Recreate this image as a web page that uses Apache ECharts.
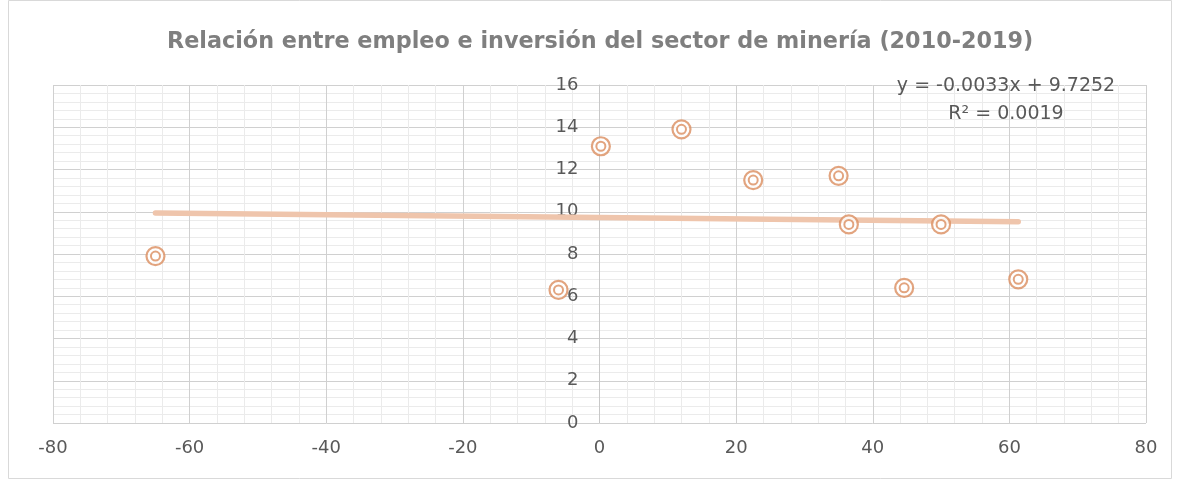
<!DOCTYPE html>
<html><head><meta charset="utf-8">
<script src="https://cdn.jsdelivr.net/npm/echarts@6/dist/echarts.min.js"></script>
<style>html,body{margin:0;padding:0;background:#fff}#c{width:1181px;height:482px}</style>
</head><body><div id="c"></div>
<script>
const empleo = [-65, -6, 0.2, 12, 22.5, 35, 36.5, 44.6, 50, 61.3];
const inversion = [7.9, 6.3, 13.1, 13.9, 11.5, 11.7, 9.4, 6.4, 9.4, 6.8];
const trendSlope = -0.0033;
const trendIntercept = 9.7252;
const xTicks = [-80, -60, -40, -20, 0, 20, 40, 60, 80];
const yTicks = [0, 2, 4, 6, 8, 10, 12, 14, 16];
const titleText = 'Relación entre empleo e inversión del sector de minería (2010-2019)';
const eqText = 'y = -0.0033x + 9.7252';
const r2Text = 'R² = 0.0019';

const pts = empleo.map((x, i) => [x, inversion[i]]);
const xmin = Math.min(...empleo), xmax = Math.max(...empleo);
const trend = [[xmin, trendSlope * xmin + trendIntercept], [xmax, trendSlope * xmax + trendIntercept]];

const W = 1181, gl = 53, gr = 35;
const gridW = W - gl - gr;
const yOffset = -gridW * (0 - xTicks[0]) / (xTicks[xTicks.length - 1] - xTicks[0]);

const chart = echarts.init(document.getElementById('c'));
const markerColor = '#DB8D5F';
const font = 'DejaVu Sans';
chart.setOption({
  animation: false,
  title: {
    text: titleText, left: 162, top: 26,
    textStyle: {fontFamily: font, fontWeight: 'bold', fontSize: 22.3, color: '#7F7F7F'}
  },
  graphic: [
    {type: 'rect', shape: {x: 8.5, y: 0.5, width: 1163, height: 478}, style: {fill: 'none', stroke: '#D9D9D9', lineWidth: 1}, silent: true},
    {type: 'text', z: 100, x: 1006, y: 86, style: {text: eqText, fill: '#595959', font: '19px "DejaVu Sans"', align: 'center', verticalAlign: 'middle'}},
    {type: 'text', z: 100, x: 1006, y: 114, style: {text: r2Text, fill: '#595959', font: '19px "DejaVu Sans"', align: 'center', verticalAlign: 'middle'}}
  ],
  grid: {left: gl, right: gr, top: 85, bottom: 59},
  xAxis: {
    type: 'value', min: -80, max: 80, interval: 20,
    axisLine: {show: false},
    axisTick: {show: false},
    axisLabel: {color: '#595959', fontSize: 18, fontFamily: font, margin: 16,
      formatter: v => xTicks.includes(v) ? String(v) : ''},
    splitLine: {show: true, lineStyle: {color: '#D0D0D0', width: 1}},
    minorTick: {show: false, splitNumber: 5},
    minorSplitLine: {show: true, lineStyle: {color: '#EBEBEB', width: 1}}
  },
  yAxis: {
    type: 'value', min: 0, max: 16, interval: 2, offset: yOffset,
    axisLine: {show: true, onZero: false, lineStyle: {color: '#C8C8C8'}},
    axisTick: {show: false},
    axisLabel: {color: '#595959', fontSize: 18, fontFamily: font, margin: 21,
      formatter: v => yTicks.includes(v) ? String(v) : ''},
    splitLine: {show: true, lineStyle: {color: '#D0D0D0', width: 1}},
    minorTick: {show: false, splitNumber: 5},
    minorSplitLine: {show: true, lineStyle: {color: '#EBEBEB', width: 1}}
  },
  series: [
    {type: 'line', data: trend, symbol: 'none', silent: true,
      lineStyle: {color: '#EFC5AC', width: 5.5, cap: 'round'}, z: 2},
    {type: 'scatter', data: pts, symbol: 'circle', symbolSize: 18, z: 3,
      itemStyle: {color: '#fff', borderColor: markerColor, borderWidth: 2.2}},
    {type: 'scatter', data: pts, symbol: 'circle', symbolSize: 9, z: 4,
      itemStyle: {color: '#fff', borderColor: markerColor, borderWidth: 2}}
  ]
});
</script></body></html>
